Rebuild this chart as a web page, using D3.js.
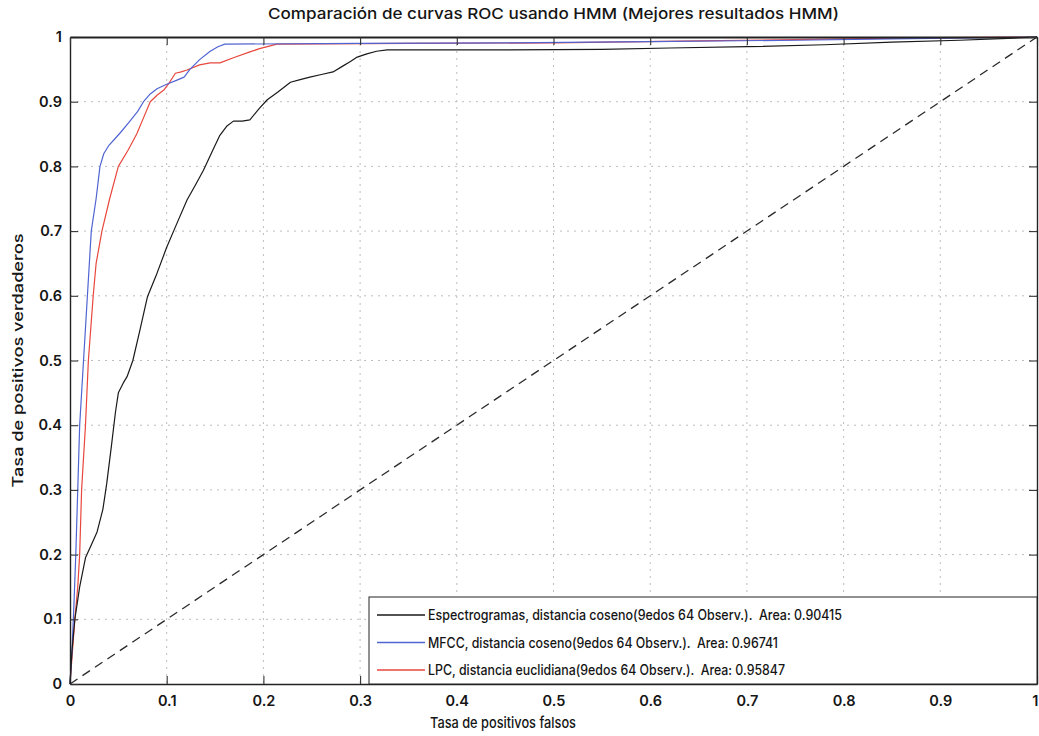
<!DOCTYPE html>
<html>
<head>
<meta charset="utf-8">
<script src="https://cdn.jsdelivr.net/npm/d3@7"></script>
<style>
  html, body { margin: 0; padding: 0; background: #fff; }
  svg { display: block; }
  text { font-family: Inter, "Open Sans", "DejaVu Sans", sans-serif; fill: #151515; }
</style>
</head>
<body>
<svg id="chart" width="1039" height="736"></svg>
<script>
// ROC curves: false positive rate (x) vs. true positive rate (y)
const specFpr = [0, 0.002, 0.005, 0.010, 0.016, 0.022, 0.028, 0.034, 0.038, 0.043, 0.047, 0.050, 0.055, 0.059, 0.065, 0.072, 0.080, 0.090, 0.100, 0.110, 0.121, 0.130, 0.138, 0.148, 0.155, 0.162, 0.169, 0.178, 0.186, 0.196, 0.204, 0.215, 0.228, 0.238, 0.248, 0.260, 0.272, 0.282, 0.290, 0.297, 0.307, 0.317, 0.328, 0.45, 0.55, 0.62, 0.70, 0.78, 0.85, 0.92, 0.97, 1.0];
const specTpr = [0, 0.05, 0.10, 0.15, 0.195, 0.215, 0.235, 0.27, 0.31, 0.37, 0.42, 0.45, 0.465, 0.475, 0.50, 0.545, 0.598, 0.635, 0.675, 0.71, 0.748, 0.772, 0.794, 0.826, 0.848, 0.862, 0.870, 0.870, 0.872, 0.890, 0.903, 0.915, 0.930, 0.934, 0.938, 0.942, 0.946, 0.955, 0.962, 0.969, 0.974, 0.978, 0.980, 0.980, 0.981, 0.983, 0.985, 0.988, 0.992, 0.995, 0.998, 1.0];

const mfccFpr = [0, 0.002, 0.004, 0.006, 0.008, 0.010, 0.014, 0.018, 0.020, 0.022, 0.027, 0.031, 0.035, 0.040, 0.046, 0.052, 0.062, 0.070, 0.076, 0.083, 0.090, 0.100, 0.110, 0.118, 0.124, 0.134, 0.145, 0.153, 0.160, 0.30, 0.45, 0.60, 0.75, 0.85, 0.95, 1.0];
const mfccTpr = [0, 0.05, 0.12, 0.20, 0.30, 0.40, 0.50, 0.60, 0.65, 0.70, 0.75, 0.80, 0.82, 0.832, 0.842, 0.852, 0.870, 0.885, 0.900, 0.912, 0.920, 0.927, 0.933, 0.938, 0.950, 0.965, 0.978, 0.985, 0.989, 0.990, 0.991, 0.993, 0.995, 0.997, 0.999, 1.0];

const lpcFpr = [0, 0.003, 0.005, 0.008, 0.010, 0.012, 0.016, 0.019, 0.024, 0.027, 0.033, 0.041, 0.050, 0.060, 0.069, 0.076, 0.083, 0.090, 0.097, 0.103, 0.109, 0.115, 0.121, 0.134, 0.145, 0.155, 0.169, 0.186, 0.196, 0.204, 0.214, 0.35, 0.50, 0.65, 0.80, 0.90, 1.0];
const lpcTpr = [0, 0.06, 0.10, 0.15, 0.20, 0.30, 0.40, 0.50, 0.60, 0.65, 0.70, 0.75, 0.80, 0.825, 0.85, 0.875, 0.90, 0.91, 0.918, 0.930, 0.944, 0.946, 0.949, 0.957, 0.960, 0.960, 0.968, 0.977, 0.982, 0.985, 0.989, 0.990, 0.991, 0.994, 0.997, 0.999, 1.0];

const seriesNames = [
  "Espectrogramas, distancia coseno(9edos 64 Observ.).  Area: 0.90415",
  "MFCC, distancia coseno(9edos 64 Observ.).  Area: 0.96741",
  "LPC, distancia euclidiana(9edos 64 Observ.).  Area: 0.95847"
];
const seriesColors = ["#1a1a1a", "#5064d2", "#e8473d"];

const xTicks = [0, 0.1, 0.2, 0.3, 0.4, 0.5, 0.6, 0.7, 0.8, 0.9, 1];
const yTicks = [0, 0.1, 0.2, 0.3, 0.4, 0.5, 0.6, 0.7, 0.8, 0.9, 1];

const titleText = "Comparación de curvas ROC usando HMM (Mejores resultados HMM)";
const xLabelText = "Tasa de positivos falsos";
const yLabelText = "Tasa de positivos verdaderos";

// ---- layout ----
const svg = d3.select("#chart");
const plot = { left: 70, right: 1037, top: 37, bottom: 684 };
const x = d3.scaleLinear().domain([0, 1]).range([plot.left, plot.right]);
const y = d3.scaleLinear().domain([0, 1]).range([plot.bottom, plot.top]);
const fmt = d => (d === 0 || d === 1) ? String(d) : d3.format(".1f")(d);
const tickLen = 8;

// dotted grid
const grid = svg.append("g").attr("stroke", "#bdbdbd").attr("stroke-width", 1)
  .attr("stroke-dasharray", "2,5");
grid.selectAll(".gx").data(xTicks.slice(1, -1)).join("line")
  .attr("x1", d => x(d)).attr("x2", d => x(d))
  .attr("y1", plot.top).attr("y2", plot.bottom);
grid.selectAll(".gy").data(yTicks.slice(1, -1)).join("line")
  .attr("x1", plot.left).attr("x2", plot.right)
  .attr("y1", d => y(d)).attr("y2", d => y(d));

// chance diagonal
svg.append("line")
  .attr("x1", x(0)).attr("y1", y(0)).attr("x2", x(1)).attr("y2", y(1))
  .attr("stroke", "#2a2a2a").attr("stroke-width", 1.3)
  .attr("stroke-dasharray", "9,6");

// ROC curves
const line = d3.line().x(d => x(d[0])).y(d => y(d[1]));
const curves = [
  d3.zip(specFpr, specTpr),
  d3.zip(mfccFpr, mfccTpr),
  d3.zip(lpcFpr, lpcTpr)
];
// red first, then blue, black on top
[2, 1, 0].forEach(i => {
  svg.append("path").datum(curves[i])
    .attr("d", line)
    .attr("fill", "none")
    .attr("stroke", seriesColors[i])
    .attr("stroke-width", 1.2)
    .attr("stroke-linejoin", "round");
});

// axes (ticks pointing inward, box around the plot)
const axBottom = svg.append("g").attr("transform", `translate(0,${plot.bottom})`)
  .call(d3.axisBottom(x).tickValues(xTicks).tickFormat(fmt).tickSizeInner(-tickLen).tickSizeOuter(0).tickPadding(12));
const axLeft = svg.append("g").attr("transform", `translate(${plot.left},0)`)
  .call(d3.axisLeft(y).tickValues(yTicks).tickFormat(fmt).tickSizeInner(-tickLen).tickSizeOuter(0).tickPadding(8));
const axTop = svg.append("g").attr("transform", `translate(0,${plot.top})`)
  .call(d3.axisTop(x).tickValues(xTicks).tickFormat("").tickSizeInner(-tickLen).tickSizeOuter(0));
const axRight = svg.append("g").attr("transform", `translate(${plot.right},0)`)
  .call(d3.axisRight(y).tickValues(yTicks).tickFormat("").tickSizeInner(-tickLen).tickSizeOuter(0));

[axBottom, axLeft, axTop, axRight].forEach(g => {
  g.select(".domain").attr("stroke", "#222").attr("stroke-width", 1.4);
  g.selectAll(".tick line").attr("stroke", "#333").attr("stroke-width", 1.1);
  g.selectAll(".tick text")
    .style("font-family", 'Inter, "Open Sans", sans-serif')
    .style("font-size", "14.5px")
    .style("font-weight", "600")
    .attr("fill", "#1a1a1a");
});
axTop.select(".domain").attr("stroke-width", 2);
// keep the last x label inside the canvas
axBottom.selectAll(".tick text").filter(d => d === 1)
  .attr("text-anchor", "end").attr("x", 1);

// legend (lower right)
const leg = { x0: 369, y0: 597, x1: plot.right, y1: plot.bottom };
svg.append("rect")
  .attr("x", leg.x0).attr("y", leg.y0)
  .attr("width", leg.x1 - leg.x0).attr("height", leg.y1 - leg.y0)
  .attr("fill", "#fff").attr("stroke", "#222").attr("stroke-width", 1);
const legTextLen = [414, 350, 357];
seriesNames.forEach((name, i) => {
  const cy = 615 + i * 27.5;
  svg.append("line")
    .attr("x1", 377).attr("x2", 425).attr("y1", cy).attr("y2", cy)
    .attr("stroke", seriesColors[i]).attr("stroke-width", 1.3);
  svg.append("text")
    .attr("x", 428).attr("y", cy + 5)
    .style("font-size", "14px")
    .style("font-weight", "500")
    .style("white-space", "pre")
    .attr("textLength", legTextLen[i])
    .attr("lengthAdjust", "spacingAndGlyphs")
    .text(name);
});

// titles
svg.append("text")
  .attr("x", (plot.left + plot.right) / 2).attr("y", 19)
  .attr("text-anchor", "middle")
  .style("font-size", "15px")
  .style("font-weight", "500")
  .attr("textLength", 571).attr("lengthAdjust", "spacingAndGlyphs")
  .text(titleText);

svg.append("text")
  .attr("x", 503).attr("y", 728)
  .attr("text-anchor", "middle")
  .style("font-size", "15px")
  .style("font-weight", "500")
  .attr("textLength", 146).attr("lengthAdjust", "spacingAndGlyphs")
  .text(xLabelText);

svg.append("text")
  .attr("transform", `translate(23,${(plot.top + plot.bottom) / 2}) rotate(-90)`)
  .attr("text-anchor", "middle")
  .style("font-size", "14.5px")
  .style("font-weight", "500")
  .attr("textLength", 254).attr("lengthAdjust", "spacingAndGlyphs")
  .text(yLabelText);
</script>
</body>
</html>
